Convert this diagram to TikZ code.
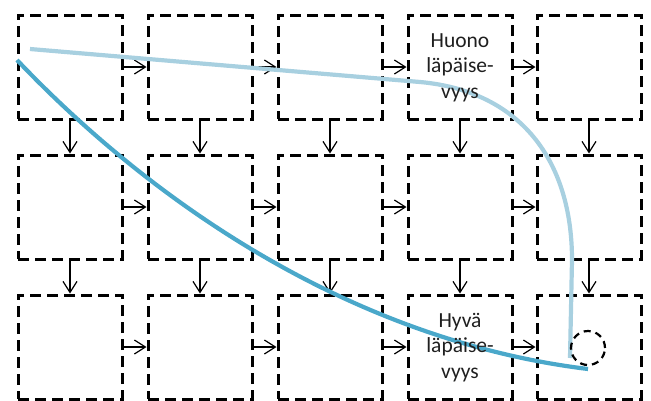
\documentclass[tikz,border=0pt]{standalone}
\usepackage{fontspec}
\setmainfont{Carlito}
\usetikzlibrary{arrows.meta}
\definecolor{lightcurve}{RGB}{168,208,224}
\definecolor{darkcurve}{RGB}{74,168,202}
\tikzset{
  cell/.style={draw=black, line width=3pt, dash pattern=on 11pt off 6pt, minimum size=104pt, inner sep=0pt},
  arr/.style={draw=black, line width=1.2pt, -{Straight Barb[length=11pt,width=14pt,line width=1.2pt]}},
  lbl/.style={align=center, font=\fontsize{21.5}{25.5}\selectfont, text=black!88},
  curve/.style={line width=4.2pt, line cap=butt}
}
\begin{document}
\begin{tikzpicture}[x=1pt,y=-1pt]
\useasboundingbox (0,0) rectangle (651,400);
\clip (0,0) rectangle (651,400);
\foreach \r/\yy in {1/67,2/207,3/347}{
  \foreach \c/\xx in {1/70,2/200,3/330,4/460,5/589}{
    \node[cell] (b\r\c) at (\xx,\yy) {};
  }
}
\foreach \r in {1,2,3}{
  \foreach \c/\n in {1/2,2/3,3/4,4/5}{
    \draw[arr] (b\r\c.east) -- (b\r\n.west);
  }
}
\foreach \c in {1,2,3,4,5}{
  \draw[arr] (b1\c.south) -- (b2\c.north);
  \draw[arr] (b2\c.south) -- (b3\c.north);
}
\coordinate (ls) at (30,49);
\coordinate (lm) at (420,82);
\coordinate (lk) at (572,260);
\coordinate (le) at (570,358);
\draw[curve, lightcurve] (ls) -- (lm) .. controls (520,91) and (572,160) .. (lk) -- (le);
\coordinate (ds) at (17,60);
\coordinate (de) at (588,369);
\draw[curve, darkcurve] (ds) .. controls (150,200) and (350,340) .. (de);
\node[draw=black, line width=2.2pt, dash pattern=on 7pt off 5pt, circle, minimum size=34pt, inner sep=0pt] (goal) at (588,348) {};
\node[lbl] (huono) at (460,67.5) {Huono\\läpäise-\\vyys};
\node[lbl] (hyva) at (460,347.5) {Hyvä\\läpäise-\\vyys};
\end{tikzpicture}
\end{document}
